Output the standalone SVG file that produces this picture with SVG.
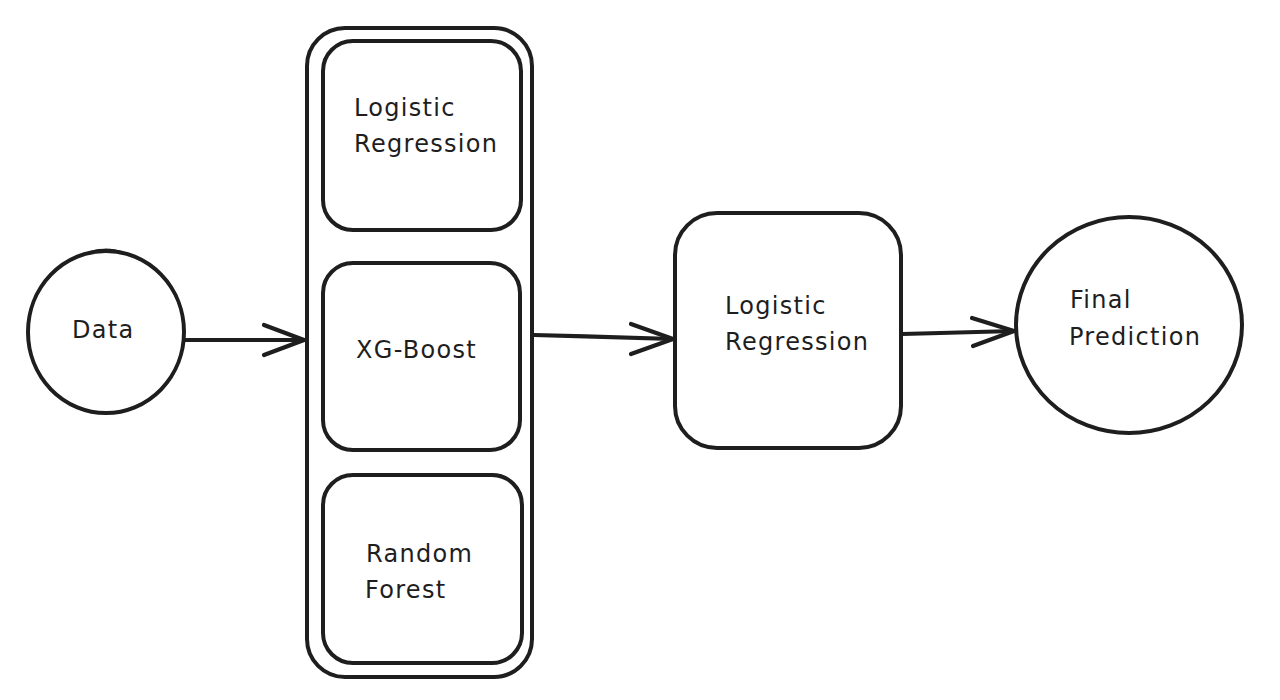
<svg xmlns="http://www.w3.org/2000/svg" width="1280" height="700" viewBox="0 0 1280 700">
  <style>
    .shape { fill: none; stroke: #1e1e1e; stroke-width: 4; stroke-linecap: round; stroke-linejoin: round; }
    .thin { fill: none; stroke: #1e1e1e; stroke-width: 1.5; stroke-linecap: round; }
    .label { font-family: "DejaVu Sans", "Liberation Sans", sans-serif; font-size: 24px; fill: #1e1e1e; letter-spacing: 1.3px; }
    .conn { fill: none; stroke: #1e1e1e; stroke-width: 4.2; stroke-linecap: round; stroke-linejoin: round; }
  </style>
  <rect width="1280" height="700" fill="#ffffff"/>

  <g id="data">
    <ellipse class="shape" cx="106" cy="332" rx="78" ry="81"/>
    <path class="thin" d="M86 254 C 96 248, 112 248, 124 253"/>
    <text class="label" x="72" y="338">Data</text>
  </g>

  <g id="ensemble">
    <rect class="shape" x="307" y="28" width="225" height="649" rx="38" ry="38"/>
  </g>

  <g id="logreg-base">
    <rect class="shape" x="323" y="41" width="198" height="189" rx="30" ry="30"/>
    <text class="label" x="354" y="116">Logistic</text>
    <text class="label" x="354" y="152">Regression</text>
  </g>

  <g id="xgboost">
    <rect class="shape" x="323" y="263" width="197" height="187" rx="30" ry="30"/>
    <text class="label" x="356" y="358">XG-Boost</text>
  </g>

  <g id="random-forest">
    <rect class="shape" x="323" y="475" width="199" height="188" rx="30" ry="30"/>
    <text class="label" x="366" y="562">Random</text>
    <text class="label" x="365" y="598">Forest</text>
  </g>

  <g id="logreg-meta">
    <rect class="shape" x="675" y="213" width="226" height="235" rx="42" ry="42"/>
    <text class="label" x="725" y="314">Logistic</text>
    <text class="label" x="725" y="350">Regression</text>
  </g>

  <g id="final-prediction">
    <ellipse class="shape" cx="1129" cy="325" rx="113" ry="108"/>
    <text class="label" x="1070" y="308">Final</text>
    <text class="label" x="1069" y="345">Prediction</text>
  </g>

  <g id="connectors">
    <path class="conn" d="M185 340 L 304 340"/>
    <path class="conn" d="M264 325 L 304 340 L 264 355"/>
    <path class="conn" d="M534 335 C 580 336, 630 338, 673 339"/>
    <path class="conn" d="M631 324 L 673 339 L 631 354"/>
    <path class="conn" d="M902 334 C 940 333, 980 332, 1014 331"/>
    <path class="conn" d="M972 318 L 1014 331 L 973 346"/>
  </g>
</svg>
